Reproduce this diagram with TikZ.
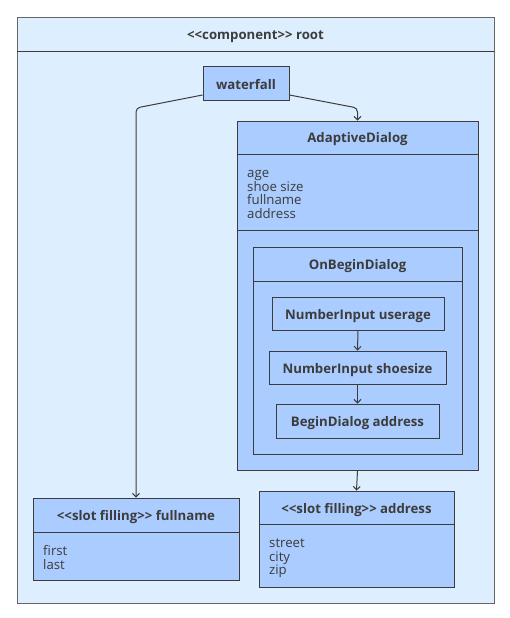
\documentclass[tikz,border=0pt]{standalone}
\usepackage{fontspec}
\setmainfont{Open Sans}
\usetikzlibrary{arrows.meta}
\definecolor{rootfill}{HTML}{DDEEFF}
\definecolor{boxfill}{HTML}{AACCFF}
\definecolor{lineclr}{HTML}{3C3C3C}
\definecolor{rootline}{HTML}{666666}

\begin{document}
\begin{tikzpicture}[x=1pt, y=-1pt, font=\fontsize{13.2}{13.7}\selectfont,
		box/.style={shape=rectangle, draw=lineclr, fill=boxfill, line width=0.9pt, inner sep=0pt},
		ttl/.style={font=\fontsize{13.2}{13.7}\selectfont\bfseries, text=lineclr, inner sep=0pt, anchor=base},
		attr/.style={anchor=north west, align=left, inner sep=0pt, text=lineclr},
		flow/.style={-{Straight Barb[length=3.5pt, width=7pt]}, draw=lineclr, line width=1pt}]
			\useasboundingbox (0,0) rectangle (509,618);
			% outer component
			\node[box, fill=rootfill, draw=rootline, minimum width=477pt, minimum height=586pt] (root) at (255.5, 310){};
			\draw[draw=lineclr, line width=0.9pt] (root.west |- 0,51) -- (root.east |- 0,51);
			\node[ttl] (roottitle) at (255.5, 40){{<}{<}component{>}{>} root};
			% waterfall
			\node[box, minimum width=86pt, minimum height=34pt] (waterfall) at (246, 83){};
			\node[ttl] (waterfalltitle) at (waterfall.center |- 0,89.5){waterfall};
			% adaptive dialog
			\node[box, minimum width=241pt, minimum height=349pt] (adaptive) at (357.5, 295.5){};
			\draw[draw=lineclr, line width=0.9pt] (adaptive.west |- 0,154) -- (adaptive.east |- 0,154);
			\draw[draw=lineclr, line width=0.9pt] (adaptive.west |- 0,230) -- (adaptive.east |- 0,230);
			\node[ttl] (adaptivetitle) at (357.5, 142.5){AdaptiveDialog};
			\node[attr] (adaptiveattr) at (247, 170){age\\shoe size\\fullname\\address};
			% on begin dialog
			\node[box, minimum width=209pt, minimum height=207pt] (onbegin) at (357.5, 350.5){};
			\draw[draw=lineclr, line width=0.9pt] (onbegin.west |- 0,281) -- (onbegin.east |- 0,281);
			\node[ttl] (onbegintitle) at (357.5, 269){OnBeginDialog};
			\node[box, minimum width=172pt, minimum height=33pt] (userage) at (358, 313.5){};
			\node[ttl] (useragetitle) at (userage.center |- 0,319.5){NumberInput userage};
			\node[box, minimum width=177pt, minimum height=33pt] (shoesize) at (357.5, 367.5){};
			\node[ttl] (shoesizetitle) at (shoesize.center |- 0,373){NumberInput shoesize};
			\node[box, minimum width=163pt, minimum height=34pt] (address) at (357.5, 421){};
			\node[ttl] (addresstitle) at (address.center |- 0,426.5){BeginDialog address};
			% slot fillings
			\node[box, minimum width=206pt, minimum height=82pt] (slotfullname) at (136, 539){};
			\draw[draw=lineclr, line width=0.9pt] (slotfullname.west |- 0,532) -- (slotfullname.east |- 0,532);
			\node[ttl] (slotfullnametitle) at (136, 520.5){{<}{<}slot filling{>}{>} fullname};
			\node[attr] (slotfullnameattr) at (43, 545){first\\last};
			\node[box, minimum width=195pt, minimum height=96pt] (slotaddress) at (356.5, 539){};
			\draw[draw=lineclr, line width=0.9pt] (slotaddress.west |- 0,524) -- (slotaddress.east |- 0,524);
			\node[ttl] (slotaddresstitle) at (356.5, 513){{<}{<}slot filling{>}{>} address};
			\node[attr] (slotaddressattr) at (269, 538.5){street\\city\\zip};
			% connectors
			\draw[flow, rounded corners=4pt] ([yshift=-12pt]waterfall.east) -- (adaptive.north |- 0,108) -- (adaptive.north);
			\draw[flow, rounded corners=4pt] ([yshift=-12pt]waterfall.west) -- (slotfullname.north |- 0,108) -- (slotfullname.north);
			\draw[flow] (userage.south) -- (shoesize.north);
			\draw[flow] (shoesize.south) -- (address.north);
			\draw[flow] (adaptive.south) -- (slotaddress.north);
\end{tikzpicture}
\end{document}
